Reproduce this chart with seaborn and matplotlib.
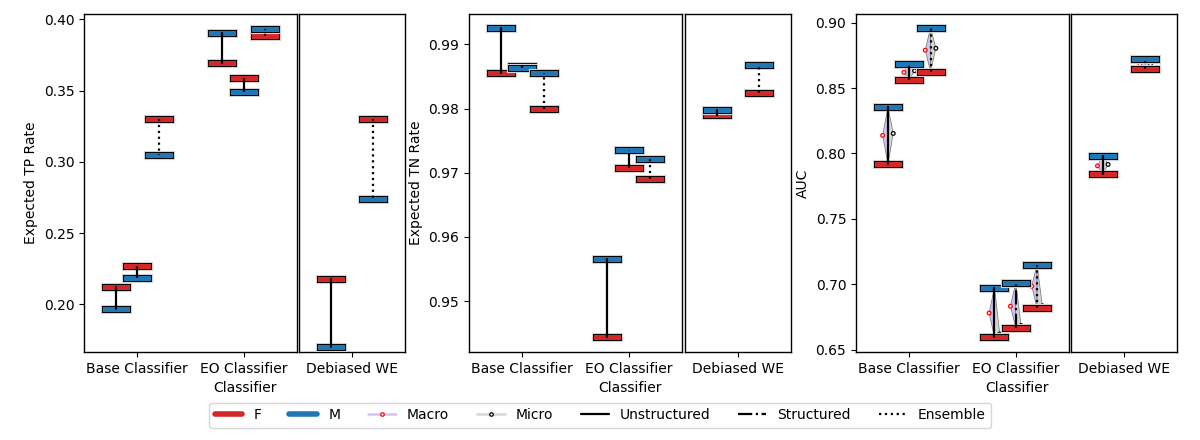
import numpy as np
import pandas as pd
import matplotlib
matplotlib.use("Agg")
import matplotlib.pyplot as plt
import matplotlib.patheffects as pe
from matplotlib.lines import Line2D
import seaborn as sns

# ---------------- data ----------------
methods = ["Unstructured", "Structured", "Ensemble"]
left_categories = ["Base Classifier", "EO Classifier"]
right_categories = ["Debiased WE"]

# Expected TP rate
tp_F_base = [0.2123, 0.2268, 0.3300]
tp_M_base = [0.1964, 0.2188, 0.3049]
tp_F_eo = [0.3691, 0.3592, 0.3887]
tp_M_eo = [0.3903, 0.3488, 0.3930]
tp_F_deb = [0.2181, None, 0.3300]
tp_M_deb = [0.1703, None, 0.2738]

# Expected TN rate
tn_F_base = [0.9856, 0.9866, 0.9800]
tn_M_base = [0.9926, 0.9863, 0.9855]
tn_F_eo = [0.9444, 0.9707, 0.9690]
tn_M_eo = [0.9565, 0.9736, 0.9722]
tn_F_deb = [0.9790, None, 0.9824]
tn_M_deb = [0.9797, None, 0.9868]

# AUC
auc_F_base = [0.7920, 0.8564, 0.8625]
auc_M_base = [0.8355, 0.8686, 0.8962]
auc_F_eo = [0.6599, 0.6668, 0.6818]
auc_M_eo = [0.6974, 0.7012, 0.7150]
auc_F_deb = [0.7844, None, 0.8645]
auc_M_deb = [0.7982, None, 0.8722]
macro_base = [0.8138, 0.8620, 0.8789]
micro_base = [0.8153, 0.8632, 0.8804]
macro_eo = [0.6780, 0.6832, 0.6985]
micro_eo = [0.6620, 0.6685, 0.6835]
macro_deb = [0.7905, None, 0.8684]
micro_deb = [0.7916, None, 0.8684]

y_labels = ["Expected TP Rate", "Expected TN Rate", "AUC"]
y_limits = [(0.1665, 0.4038), (0.94208, 0.99473), (0.6482, 0.9066)]
y_ticks = [[0.20, 0.25, 0.30, 0.35, 0.40],
           [0.95, 0.96, 0.97, 0.98, 0.99],
           [0.65, 0.70, 0.75, 0.80, 0.85, 0.90]]

# ---------------- style ----------------
sns.set_style("white")
plt.rcParams.update({
    "font.family": ["DejaVu Sans"],
    "axes.edgecolor": "black",
    "axes.labelcolor": "black",
    "xtick.color": "black",
    "ytick.color": "black",
    "text.color": "black",
    "xtick.bottom": True,
    "ytick.left": True,
    "axes.linewidth": 1.0,
})
RED = sns.color_palette("tab10")[3]
BLUE = sns.color_palette("tab10")[0]
MACRO_FILL = "#d4c2f4"
MICRO_FILL = "#d2d7d2"
OFFSETS = [-0.2, 0.0, 0.2]
STYLES = ["-", "-.", ":"]
HALF = 0.103
VW = 0.05

fig = plt.figure(figsize=(12, 4.4), dpi=100)
W, H = 1200.0, 440.0
bottom = 88 / H
height = 338 / H
panel_lefts = [(84, 299), (469, 685), (856, 1071)]


def box(ax, x, v, color):
    ax.plot([x - HALF, x + HALF], [v, v], color=color, lw=3.6,
            solid_capstyle="projecting", zorder=3,
            path_effects=[pe.Stroke(linewidth=6.6, foreground="#d2d2d2"),
                          pe.Stroke(linewidth=5.0, foreground="black"),
                          pe.Normal()])


def draw_group(ax, center, F, M, macro=None, micro=None):
    for k in range(3):
        if F[k] is None:
            continue
        x = center + OFFSETS[k]
        if macro is not None:
            ax.fill([x, x - VW, x], [F[k], macro[k], M[k]], facecolor=MACRO_FILL,
                    edgecolor="#707070", lw=0.5, zorder=2)
            ax.fill([x, x + VW, x], [F[k], micro[k], M[k]], facecolor=MICRO_FILL,
                    edgecolor="#707070", lw=0.5, zorder=2)
            pts = pd.DataFrame({"x": [x - VW, x + VW], "y": [macro[k], micro[k]],
                                "kind": ["Macro", "Micro"]})
            sns.scatterplot(data=pts, x="x", y="y", marker="o", s=7,
                            legend=False, linewidth=0.9, ax=ax, zorder=2.5)
            coll = ax.collections[-1]
            coll.set_facecolor("white")
            coll.set_edgecolor(["red", "black"])
        box(ax, x, F[k], RED)
        box(ax, x, M[k], BLUE)
        ax.plot([x, x], [F[k], M[k]], color="black", lw=1.6, ls=STYLES[k], zorder=4)


panels = [
    ((tp_F_base, tp_M_base), (tp_F_eo, tp_M_eo), (tp_F_deb, tp_M_deb), None),
    ((tn_F_base, tn_M_base), (tn_F_eo, tn_M_eo), (tn_F_deb, tn_M_deb), None),
    ((auc_F_base, auc_M_base), (auc_F_eo, auc_M_eo), (auc_F_deb, auc_M_deb),
     ((macro_base, micro_base), (macro_eo, micro_eo), (macro_deb, micro_deb))),
]

for p, (base, eo, deb, mm) in enumerate(panels):
    lx, rx = panel_lefts[p]
    axL = fig.add_axes([lx / W, bottom, 213 / W, height])
    axR = fig.add_axes([rx / W, bottom, 106 / W, height])
    if mm is None:
        draw_group(axL, 0, *base)
        draw_group(axL, 1, *eo)
        draw_group(axR, 0, *deb)
    else:
        draw_group(axL, 0, *base, *mm[0])
        draw_group(axL, 1, *eo, *mm[1])
        draw_group(axR, 0, *deb, *mm[2])
    axL.set_xlim(-0.5, 1.5)
    axR.set_xlim(-0.5, 0.5)
    for a in (axL, axR):
        a.set_ylim(*y_limits[p])
        for s in a.spines.values():
            s.set_visible(True)
            s.set_color("black")
        a.tick_params(axis="both", direction="out", length=3.5, width=0.8, labelsize=10)
    axL.set_xticks([0, 1])
    axL.set_xticklabels(left_categories)
    axR.set_xticks([0])
    axR.set_xticklabels(right_categories)
    axL.set_yticks(y_ticks[p])
    axL.set_yticklabels([f"{t:.2f}" for t in y_ticks[p]])
    axR.set_yticks([])
    axR.set_xlabel("")
    axR.set_ylabel("")
    axL.set_ylabel(y_labels[p], fontsize=10)
    axL.set_xlabel("Classifier", fontsize=10, x=(((lx + rx + 106) / 2) - lx) / 213)

handles = [
    Line2D([], [], color=RED, lw=4),
    Line2D([], [], color=BLUE, lw=4),
    Line2D([], [], color=MACRO_FILL, lw=1.8, marker="o", ms=2.5, mfc="white", mec="red", mew=0.9),
    Line2D([], [], color=MICRO_FILL, lw=1.8, marker="o", ms=2.5, mfc="white", mec="black", mew=0.9),
    Line2D([], [], color="black", lw=1.6, ls="-"),
    Line2D([], [], color="black", lw=1.6, ls="-."),
    Line2D([], [], color="black", lw=1.6, ls=":"),
]
labels = ["F", "M", "Macro", "Micro", "Unstructured", "Structured", "Ensemble"]
fig.legend(handles, labels, loc="lower center", bbox_to_anchor=(0.5, 0.012),
           ncol=7, fontsize=10, frameon=True)

fig.savefig("out.png", dpi=100)
